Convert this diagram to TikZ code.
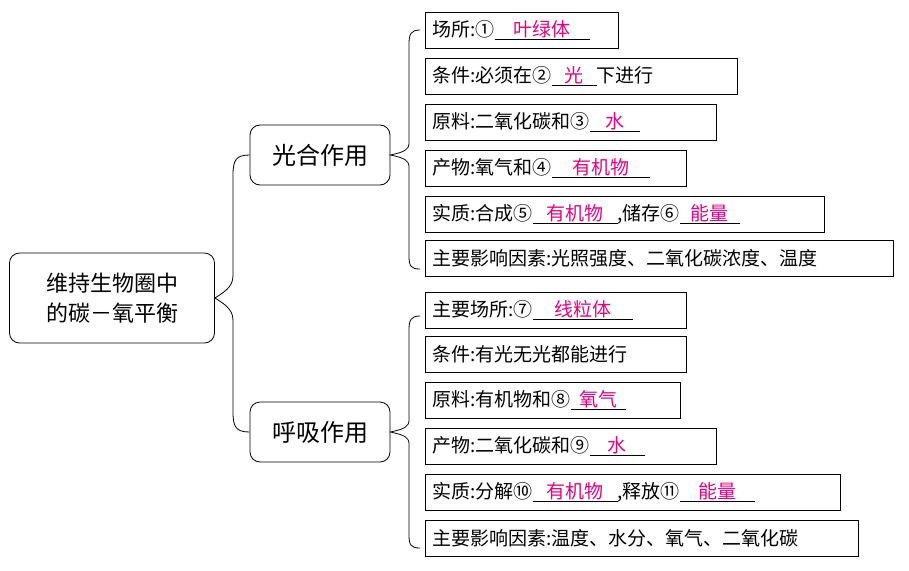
\documentclass[tikz,border=0pt]{standalone}
\usepackage{fontspec}
\setmainfont{Noto Sans CJK SC}
\usepackage{tikz}
\usetikzlibrary{positioning}
\definecolor{ans}{RGB}{230,0,130}
\newcommand{\blank}[2]{\underline{\makebox[#1pt]{\color{ans}#2}}}

\begin{document}
\begin{tikzpicture}[x=1pt,y=-1pt,line width=0.8pt,
    leaf/.style={draw,anchor=north west,minimum height=36pt,inner xsep=7pt,
      font=\fontsize{19}{19}\selectfont,align=left},
    branch/.style={draw,rounded corners=10pt,minimum width=140pt,minimum height=60pt,
      font=\fontsize{24}{24}\selectfont},
    brace/.style={draw,line width=0.8pt}]
  \useasboundingbox (0,0) rectangle (909,570);

  \node[draw,rounded corners=10pt,minimum width=205pt,minimum height=90pt,align=center,
        font=\fontsize{22}{30}\selectfont] (root) at (112,298) {维持生物圈中\\的碳－氧平衡};
  \node[branch] (photo) at (320,155) {光合作用};
  \node[branch] (resp) at (320,432) {呼吸作用};

  % photosynthesis
  \node[leaf,text width=179pt] (p1) at (425,12) {场所:①\blank{95}{叶绿体}};
  \node[leaf,text width=298pt] (p2) at (425,58) {条件:必须在②\blank{45}{光}下进行};
  \node[leaf,text width=277pt] (p3) at (425,104) {原料:二氧化碳和③\blank{50}{水}};
  \node[leaf,text width=247pt] (p4) at (425,150) {产物:氧气和④\blank{98}{有机物}};
  \node[leaf,text width=385pt] (p5) at (425,196) {实质:合成⑤\blank{85}{有机物},储存⑥\blank{60}{能量}};
  \node[leaf,text width=454pt] (p6) at (425,240) {主要影响因素:光照强度、二氧化碳浓度、温度};

  % respiration
  \node[leaf,text width=247pt] (r1) at (425,292) {主要场所:⑦\blank{100}{线粒体}};
  \node[leaf,text width=247pt] (r2) at (425,336) {条件:有光无光都能进行};
  \node[leaf,text width=241pt] (r3) at (425,382) {原料:有机物和⑧\blank{55}{氧气}};
  \node[leaf,text width=277pt] (r4) at (425,428) {产物:二氧化碳和⑨\blank{55}{水}};
  \node[leaf,text width=401pt] (r5) at (425,474) {实质:分解⑩\blank{85}{有机物},释放⑪\blank{75}{能量}};
  \node[leaf,text width=419pt] (r6) at (425,520) {主要影响因素:温度、水分、氧气、二氧化碳};

  % braces
  \draw (photo.west) .. controls (236,155) and (233,160) .. (233,175) -- (233,275)
        .. controls (233,285) and (228,290) .. (root.east)
        .. controls (228,306) and (233,311) .. (233,321) -- (233,412)
        .. controls (233,427) and (236,432) .. (resp.west);
  \draw (420,30) coordinate (pt) .. controls (411,30) and (409,34) .. (409,44) -- (409,143)
        .. controls (409,150) and (404,152) .. (photo.east)
        .. controls (404,158) and (409,160) .. (409,167) -- (409,256)
        .. controls (409,266) and (411,269) .. (420,269) coordinate (pb);
  \draw (420,316) coordinate (rt) .. controls (411,316) and (409,320) .. (409,330) -- (409,420)
        .. controls (409,427) and (404,429) .. (resp.east)
        .. controls (404,435) and (409,437) .. (409,444) -- (409,535)
        .. controls (409,545) and (411,548) .. (420,548) coordinate (rb);
\end{tikzpicture}
\end{document}
